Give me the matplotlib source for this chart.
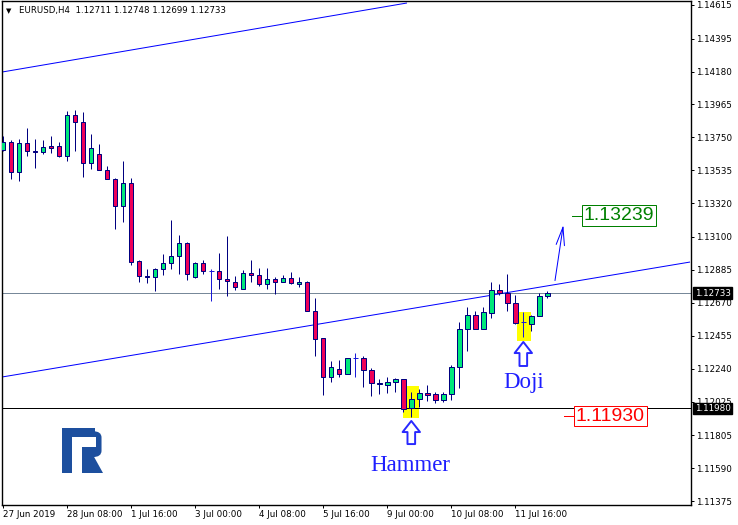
import matplotlib
matplotlib.use('Agg')
import matplotlib.pyplot as plt
from matplotlib.patches import Rectangle, Polygon, FancyBboxPatch
import numpy as np

# ---------------- data ----------------
opens = [1.13666,1.13718,1.13522,1.13714,1.13661,1.13653,1.13692,1.13692,1.13627,1.13896,
         1.13849,1.13581,1.13640,1.13535,1.13476,1.13300,1.13450,1.12941,1.12843,1.12836,
         1.12889,1.12928,1.12974,1.13059,1.12836,1.12928,1.12876,1.12876,1.12823,1.12804,
         1.12758,1.12867,1.12849,1.12791,1.12823,1.12804,1.12830,1.12791,1.12804,1.12614,
         1.12438,1.12184,1.12236,1.12203,1.12308,1.12308,1.12229,1.12144,1.12135,1.12151,
         1.12171,1.11981,1.12040,1.12079,1.12072,1.12033,1.12072,1.12249,1.12497,1.12588,
         1.12501,1.12601,1.12751,1.12732,1.12666,1.12543,1.12531,1.12582,1.12711]
highs = [1.13759,1.13733,1.13740,1.13812,1.13740,1.13733,1.13759,1.13718,1.13922,1.13929,
         1.13916,1.13772,1.13707,1.13561,1.13483,1.13594,1.13483,1.12948,1.12889,1.12895,
         1.12987,1.13209,1.13111,1.13065,1.12934,1.12948,1.12889,1.12993,1.13106,1.12843,
         1.12882,1.12949,1.12899,1.12899,1.12840,1.12849,1.12871,1.12838,1.12812,1.12699,
         1.12438,1.12292,1.12294,1.12308,1.12340,1.12321,1.12242,1.12171,1.12188,1.12181,
         1.12171,1.12085,1.12105,1.12131,1.12085,1.12089,1.12262,1.12543,1.12640,1.12614,
         1.12640,1.12804,1.12791,1.12856,1.12721,1.12612,1.12590,1.12735,1.12748]
lows = [1.13660,1.13478,1.13467,1.13631,1.13552,1.13640,1.13646,1.13620,1.13598,1.13663,
        1.13493,1.13546,1.13535,1.13476,1.13154,1.13200,1.12915,1.12804,1.12797,1.12745,
        1.12849,1.12889,1.12856,1.12817,1.12830,1.12856,1.12681,1.12758,1.12712,1.12751,
        1.12758,1.12808,1.12781,1.12762,1.12725,1.12804,1.12791,1.12771,1.12614,1.12321,
        1.12070,1.12155,1.12188,1.12203,1.12188,1.12122,1.12063,1.12076,1.12079,1.12089,
        1.11954,1.11926,1.11991,1.12027,1.12014,1.12020,1.12033,1.12115,1.12353,1.12497,
        1.12497,1.12573,1.12718,1.12614,1.12530,1.12445,1.12488,1.12582,1.12699]
closes = [1.13718,1.13522,1.13714,1.13659,1.13653,1.13686,1.13683,1.13627,1.13896,1.13849,
          1.13581,1.13679,1.13535,1.13476,1.13300,1.13450,1.12934,1.12843,1.12836,1.12889,
          1.12928,1.12974,1.13059,1.12856,1.12928,1.12876,1.12876,1.12823,1.12810,1.12771,
          1.12863,1.12849,1.12791,1.12823,1.12804,1.12830,1.12797,1.12804,1.12614,1.12432,
          1.12184,1.12249,1.12203,1.12308,1.12308,1.12229,1.12144,1.12138,1.12151,1.12171,
          1.11978,1.12040,1.12079,1.12066,1.12033,1.12072,1.12249,1.12497,1.12588,1.12497,
          1.12608,1.12751,1.12732,1.12666,1.12536,1.12543,1.12582,1.12711,1.12733]

x_tick_labels = ['27 Jun 2019', '28 Jun 08:00', '1 Jul 16:00', '3 Jul 00:00', '4 Jul 08:00',
                 '5 Jul 16:00', '9 Jul 00:00', '10 Jul 08:00', '11 Jul 16:00']
x_tick_bars = [0, 8, 16, 24, 32, 40, 48, 56, 64]
y_ticks = [1.14615, 1.14395, 1.14180, 1.13965, 1.13750, 1.13535, 1.13320, 1.13100, 1.12885,
           1.12670, 1.12455, 1.12240, 1.12025, 1.11805, 1.11590, 1.11375]
y_tick_labels = ['%.5f' % v for v in y_ticks]

title = 'EURUSD,H4  1.12711 1.12748 1.12699 1.12733'
current_price = 1.12733
support_level = 1.11980
target_up = 1.13239
target_down = 1.11930

# channel lines (bar index, price)
upper_line_x = [-0.16, 50.46]
upper_line_y = [1.14177, 1.14628]
lower_line_x = [-0.16, 85.84]
lower_line_y = [1.12185, 1.12936]

hammer_bar = 51
doji_bar = 65

# ---------------- figure ----------------
W, H = 738, 525
fig = plt.figure(figsize=(W / 100, H / 100), dpi=100)
fig.patch.set_facecolor('white')
ax = fig.add_axes([2 / W, (H - 505) / H, 689 / W, 504 / H])
ax.set_xlim(-0.16, 85.96)
ax.set_ylim(1.11349, 1.14641)
ax.set_facecolor('white')
for s in ax.spines.values():
    s.set_color('black')
    s.set_linewidth(1.0)

NAVY = '#000080'
GREEN = '#00E87A'
RED = '#EE0058'
px = 0.72  # one pixel in points

idx = np.arange(len(opens))
o = np.array(opens); c = np.array(closes); h = np.array(highs); l = np.array(lows)

# wicks
doji_mask = np.isclose(o, c)
ax.vlines(idx[~doji_mask], l[~doji_mask], h[~doji_mask], color=NAVY, lw=1.0 * px, zorder=3)
ax.vlines(idx[doji_mask], l[doji_mask], h[doji_mask], color='#1a1ad8', lw=1.0 * px, zorder=3)
ax.hlines(c[doji_mask], idx[doji_mask] - 0.32, idx[doji_mask] + 0.32, color='#1a1ad8', lw=1.0 * px, zorder=3)
# bodies
up = (c > o) & ~doji_mask
dn = (c < o) & ~doji_mask
ax.bar(idx[up], c[up] - o[up], bottom=o[up], width=0.55, color=GREEN, edgecolor=NAVY,
       linewidth=1.0 * px, zorder=4)
ax.bar(idx[dn], o[dn] - c[dn], bottom=c[dn], width=0.55, color=RED, edgecolor=NAVY,
       linewidth=1.0 * px, zorder=4)

# horizontal lines
ax.axhline(current_price, color='#778899', lw=1.0 * px, zorder=1)
ax.axhline(support_level, color='black', lw=1.0 * px, zorder=1)

# channel
ax.plot(upper_line_x, upper_line_y, color='#0000FF', lw=1.0 * px, zorder=2, solid_capstyle='butt')
ax.plot(lower_line_x, lower_line_y, color='#0000FF', lw=1.0 * px, zorder=2, solid_capstyle='butt')

# yellow highlight boxes
ax.add_patch(Rectangle((hammer_bar - 1.07, 1.11919), 2.06, 1.12126 - 1.11919,
                       facecolor='#FFFF00', edgecolor='none', zorder=0.5))
ax.add_patch(Rectangle((doji_bar - 0.75, 1.12422), 1.67, 1.12608 - 1.12422,
                       facecolor='#FFFF00', edgecolor='none', zorder=0.5))

# hollow up arrows
arrow_props = dict(arrowstyle='simple,head_length=0.8,head_width=1.25,tail_width=0.55',
                   fc='white', ec='#2828ff', lw=1.4, mutation_scale=10, shrinkA=0, shrinkB=0)
ax.annotate('', xy=(hammer_bar, 1.11898), xytext=(hammer_bar, 1.11747),
            arrowprops=arrow_props, zorder=6)
ax.annotate('', xy=(doji_bar, 1.12414), xytext=(doji_bar, 1.12257),
            arrowprops=arrow_props, zorder=6)

ax.text(hammer_bar - 0.1, 1.11610, 'Hammer', family='Liberation Serif', fontsize=16.5,
        color='#1e1eff', ha='center', va='center', zorder=6)
ax.text(doji_bar + 0.03, 1.12146, 'Doji', family='Liberation Serif', fontsize=16.5,
        color='#1e1eff', ha='center', va='center', zorder=6)

# projected move arrow
ax.annotate('', xy=(70.0, 1.13178), xytext=(68.96, 1.12815),
            arrowprops=dict(arrowstyle='->,head_length=1.3,head_width=0.3', color='#0000FF',
                            lw=1.0 * px, shrinkA=0, shrinkB=0, mutation_scale=10), zorder=6)

# target labels
ax.plot([71.09, 72.34], [target_up, target_up], color='#008000', lw=1.0 * px, zorder=6)
ax.text(72.55, target_up, '%.5f' % target_up, family='Liberation Sans', fontsize=14,
        color='#008000', ha='left', va='center', zorder=7,
        bbox=dict(boxstyle='square,pad=0.1', fc='white', ec='#008000', lw=1.0 * px))
ax.plot([70.09, 71.34], [target_down, target_down], color='#FF0000', lw=1.0 * px, zorder=6)
ax.text(71.55, target_down, '%.5f' % target_down, family='Liberation Sans', fontsize=14,
        color='#FF0000', ha='left', va='center', zorder=7,
        bbox=dict(boxstyle='square,pad=0.1', fc='white', ec='#FF0000', lw=1.0 * px))

# axes ticks
ax.yaxis.tick_right()
ax.set_yticks(y_ticks)
ax.set_yticklabels(y_tick_labels, fontsize=6.3, family='DejaVu Sans')
ax.tick_params(axis='y', direction='out', length=3 * px, width=1.0 * px, pad=1.5, colors='black')
ax.set_xticks(x_tick_bars)
ax.set_xticklabels(x_tick_labels, fontsize=6.3, family='DejaVu Sans', ha='left')
ax.tick_params(axis='x', direction='out', length=3 * px, width=1.0 * px, pad=1.5, colors='black')

# price tags on right axis
for val in (current_price, support_level):
    ax.annotate('%.5f' % val, xy=(1.0, val), xycoords=('axes fraction', 'data'),
                xytext=(2.6, 0), textcoords='offset points', fontsize=6.3, family='DejaVu Sans',
                color='white', ha='left', va='center', annotation_clip=False, zorder=10,
                bbox=dict(boxstyle='square,pad=0.15', fc='black', ec='black'))

# title
ax.text(4 / 689, 1 - 10 / 504, '\u25BC', transform=ax.transAxes, fontsize=5, ha='left',
        va='center', color='black')
ax.text(17 / 689, 1 - 10 / 504, title, transform=ax.transAxes, fontsize=6.2,
        family='DejaVu Sans', ha='left', va='center', color='black')

# logo (figure pixel coordinates)
def P(pts):
    return [(x / W, 1 - y / H) for x, y in pts]

LOGO = '#1d4f9e'
logo_parts = [
    [(62, 428), (72, 428), (72, 473), (62, 473)],
    [(62, 428), (95, 428), (95, 437), (62, 437)],
    [(82, 446.5), (95, 446.5), (95, 455), (82, 455)],
    [(82, 455), (93, 455), (103, 473), (82, 473)],
]
for part in logo_parts:
    fig.patches.append(Polygon(P(part), closed=True, transform=fig.transFigure,
                               facecolor=LOGO, edgecolor='none'))
# rounded right side of the bowl
bowl = FancyBboxPatch((88 / W, 1 - 455 / H), 15 / W - 0.006, 27 / H - 0.010,
                      boxstyle='round,pad=0.004,rounding_size=0.012', transform=fig.transFigure,
                      facecolor=LOGO, edgecolor='none')
fig.patches.append(bowl)
fig.patches.append(Polygon(P([(72, 437), (96, 437), (96, 446.5), (72, 446.5)]), closed=True,
                           transform=fig.transFigure, facecolor='white', edgecolor='none'))

fig.savefig('out.png', dpi=100, facecolor='white')
